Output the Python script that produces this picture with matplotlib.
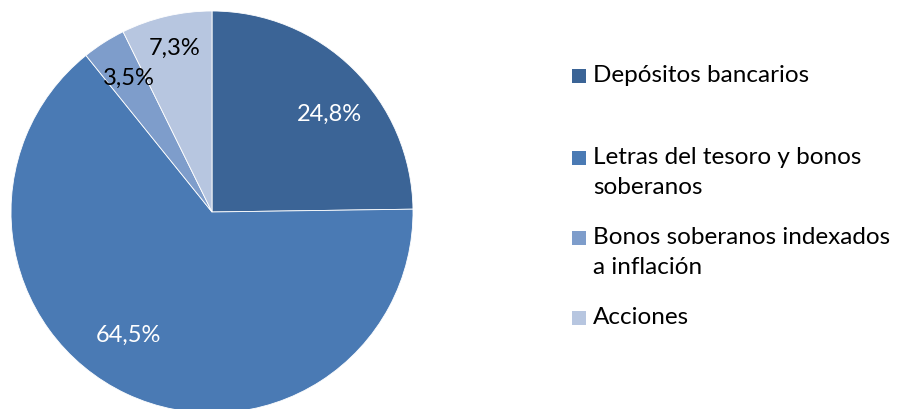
import numpy as np
import matplotlib
matplotlib.use('Agg')
import matplotlib.pyplot as plt
from matplotlib.patches import Rectangle

# datos del grafico
categorias = ["Depósitos bancarios", "Letras del tesoro y bonos\nsoberanos",
              "Bonos soberanos indexados\na inflación", "Acciones"]
valores = [24.8, 64.5, 3.5, 7.3]
etiquetas = ["24,8%", "64,5%", "3,5%", "7,3%"]
colores = ['#3B6496', '#4A7AB4', '#7E9DCB', '#B7C6E0']
color_texto = ['white', 'white', 'black', 'black']

plt.rcParams['font.family'] = ['Lato', 'DejaVu Sans']

W, H = 898, 409
fig = plt.figure(figsize=(W / 100, H / 100), dpi=100)

# eje del pie: centro (212, 212) px, radio 201 px
cx, cy, r = 212, 212, 201
ax = fig.add_axes([(cx - r) / W, (H - cy - r) / H, 2 * r / W, 2 * r / H])
wedges, _ = ax.pie(valores, colors=colores, startangle=90, counterclock=False,
                   wedgeprops=dict(edgecolor='white', linewidth=0.6))
ax.set_xlim(-1, 1)
ax.set_ylim(-1, 1)
ax.set_aspect('equal')
ax.axis('off')

# posicion de las etiquetas (ajustes de angulo y distancia)
ajuste_ang = [-5.7, -8.9, -0.7, -0.4]
dist = [0.76, 0.74, 0.78, 0.835]
for w, lab, c, da, d in zip(wedges, etiquetas, color_texto, ajuste_ang, dist):
    ang = np.deg2rad((w.theta1 + w.theta2) / 2 + da)
    ax.text(d * np.cos(ang), d * np.sin(ang), lab, color=c, fontsize=17,
            ha='center', va='center')

# leyenda manual
filas = [76, 158, 238, 318]
for cat, col, y in zip(categorias, colores, filas):
    fig.patches.append(Rectangle((572 / W, (H - y - 7) / H), 14 / W, 14 / H,
                                 transform=fig.transFigure, facecolor=col,
                                 edgecolor='none'))
    for i, linea in enumerate(cat.split('\n')):
        fig.text(593 / W, (H - y - 29 * i) / H, linea, fontsize=17.5,
                 va='center', ha='left')

plt.savefig('out.png', dpi=100)
plt.close()
